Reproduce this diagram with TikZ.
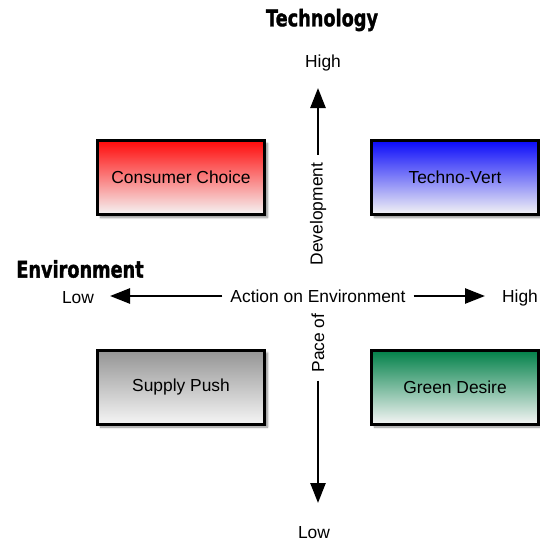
\documentclass[tikz,border=0pt]{standalone}
\usepackage{fontspec}
\setmainfont{Liberation Sans}
\newfontfamily\headfont{DejaVu Sans}[BoldFeatures={FakeBold=1.6}]
\usetikzlibrary{arrows.meta, shadows.blur}

\definecolor{choicered}{RGB}{255,10,10}
\definecolor{vertblue}{RGB}{10,10,250}
\definecolor{pushgray}{RGB}{148,148,148}
\definecolor{desiregreen}{RGB}{0,128,72}

\tikzset{
  quadrant/.style={draw=black, line width=3pt, minimum width=167pt, minimum height=74pt,
    inner sep=0pt, bottom color=white!96!black,
    blur shadow={shadow xshift=3pt, shadow yshift=-3pt, shadow blur steps=6, shadow opacity=45}},
  axislabel/.style={inner sep=8pt},
  axisarrow/.style={line width=2.5pt, -{Triangle[length=20pt,width=15pt]}},
  heading/.style={font=\headfont\bfseries\fontsize{23pt}{26pt}\selectfont, xscale=0.77},
}

\begin{document}
\begin{tikzpicture}[x=1pt, y=-1pt, font=\fontsize{17.4pt}{20pt}\selectfont]
\useasboundingbox (0,0) rectangle (539,544);
% Headings of the two axes
\node[heading] (techhead) at (322,20) {Technology};
\node[heading] (envhead) at (80,269) {Environment};
% The four quadrants
\node[quadrant, top color=choicered] (choice) at (181,177.5) {Consumer Choice};
\node[quadrant, top color=vertblue] (vert) at (455,177.5) {Techno-Vert};
\node[quadrant, top color=pushgray] (push) at (181,387) {Supply Push};
\node[quadrant, top color=desiregreen] (desire) at (455,387) {Green Desire};
% Ends of the axes
\node (techhigh) at (323,63) {High};
\node (techlow) at (314,533) {Low};
\node (envlow) at (78,298) {Low};
\node (envhigh) at (520,298) {High};
% Axis labels
\node[axislabel] (action) at (318,296) {Action on Environment};
\node[axislabel, rotate=90] (dev) at (318,214) {Development};
\node[axislabel, rotate=90] (pace) at (318,343) {Pace of};
% Arrow tips
\coordinate (uptip) at (318,88);
\coordinate (downtip) at (318,503);
\coordinate (lefttip) at (110,296);
\coordinate (righttip) at (485,296);
% Arrows
\draw[axisarrow] (dev) -- (uptip);
\draw[axisarrow] (pace) -- (downtip);
\draw[axisarrow] (action) -- (lefttip);
\draw[axisarrow] (action) -- (righttip);
\end{tikzpicture}
\end{document}
